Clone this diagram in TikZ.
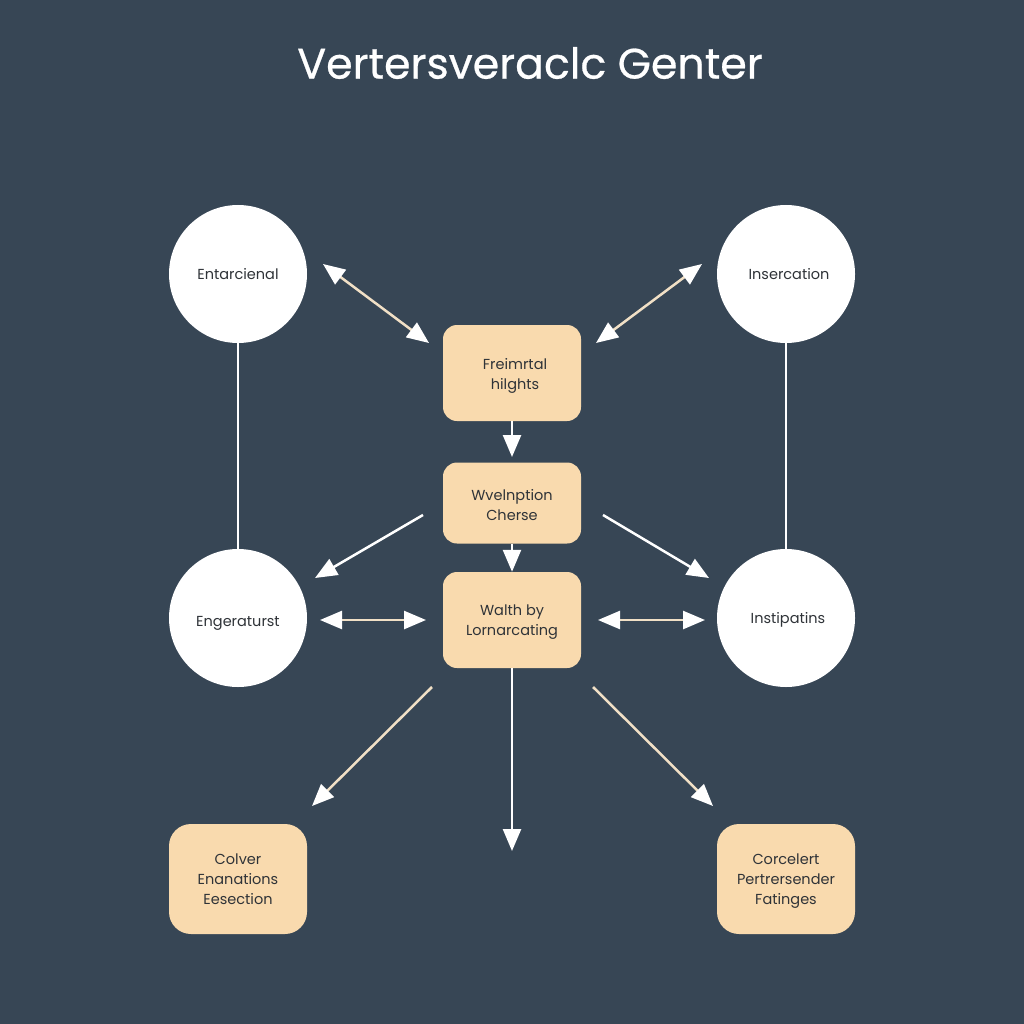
\documentclass[tikz,border=0pt]{standalone}
\usepackage{fontspec}
\setmainfont{Poppins}
\newfontfamily\titlefont[FakeBold=0.6]{Poppins}
\usetikzlibrary{arrows.meta}
\definecolor{bgc}{HTML}{374655}
\definecolor{peach}{HTML}{F9DAAE}
\definecolor{cream}{HTML}{F1E0C6}
\definecolor{ink}{HTML}{2F3338}
\newcommand\sh[3]{\vbox{\vskip#2\hbox{\hspace*{#1}\begin{tabular}{@{}c@{}}#3\end{tabular}}}}
\tikzset{
 x=1pt,y=-1pt,
 circ/.style={circle,fill=white,minimum size=138pt,inner sep=0pt,text=ink,font=\fontsize{14.5}{20}\selectfont,align=center},
 boxn/.style={rectangle,rounded corners=14pt,fill=peach,minimum width=138pt,inner sep=0pt,text=ink,font=\fontsize{14.5}{20}\selectfont,align=center},
 boxbig/.style={boxn,rounded corners=22pt,minimum height=110pt},
 wl/.style={draw=white,line width=2.5pt},
 cl/.style={draw=cream,line width=2.5pt},
 wh/.tip={Triangle[length=22pt,width=18pt,color=white]},
 arr/.style={-{wh}},
 bi/.style={{wh}-{wh}},
}
\begin{document}
\begin{tikzpicture}
\useasboundingbox (0,0) rectangle (1024,1024);
\fill[bgc] (0,0) rectangle (1024,1024);
\node[text=white,font=\fontsize{42.7}{50}\selectfont\titlefont] (title) at (530,63) {Vertersveraclc Genter};
\node[circ] (c1) at (238,274) {Entarcienal};
\node[circ] (c2) at (786,274) {\sh{6pt}{2pt}{Insercation}};
\node[circ] (c3) at (238,618) {\sh{0pt}{8pt}{Engeraturst}};
\node[circ] (c4) at (786,618) {\sh{4pt}{2pt}{Instipatins}};
\node[boxn,minimum height=96pt] (b1) at (512,373) {\sh{6pt}{4pt}{Freimrtal\\hilghts}};
\node[boxn,minimum height=81pt] (b2) at (512,503) {\sh{0pt}{6pt}{Wvelnption\\Cherse}};
\node[boxn,minimum height=96pt] (b3) at (512,620) {\sh{0pt}{2pt}{Walth by\\Lornarcating}};
\node[boxbig] (b4) at (238,879) {Colver\\Enanations\\Eesection};
\node[boxbig] (b5) at (786,879) {\sh{0pt}{3pt}{Corcelert\\Pertrersender\\Fatinges}};
\draw[wl] (c1) -- (c3);
\draw[wl] (c2) -- (c4);
\coordinate (a1s) at (323,264); \coordinate (a1e) at (429,343);
\coordinate (a2s) at (702,264); \coordinate (a2e) at (596,343);
\coordinate (a3s) at (423,515); \coordinate (a3e) at (315,578);
\coordinate (a4s) at (603,515); \coordinate (a4e) at (709,578);
\coordinate (a5s) at (320,620); \coordinate (a5e) at (426,620);
\coordinate (a6s) at (598,620); \coordinate (a6e) at (705,620);
\coordinate (a7s) at (432,687); \coordinate (a7e) at (312,806);
\coordinate (a8s) at (593,687); \coordinate (a8e) at (713,806);
\coordinate (a9e) at (512,851);
\coordinate (a10e) at (512,457);
\draw[cl,bi] (a1s) -- (a1e);
\draw[cl,bi] (a2s) -- (a2e);
\draw[wl,arr] (a3s) -- (a3e);
\draw[wl,arr] (a4s) -- (a4e);
\draw[cl,bi] (a5s) -- (a5e);
\draw[cl,bi] (a6s) -- (a6e);
\draw[cl,arr] (a7s) -- (a7e);
\draw[cl,arr] (a8s) -- (a8e);
\draw[wl,arr] (b1) -- (a10e);
\draw[wl,arr] (b2) -- (b3);
\draw[wl,arr] (b3) -- (a9e);
\end{tikzpicture}
\end{document}
